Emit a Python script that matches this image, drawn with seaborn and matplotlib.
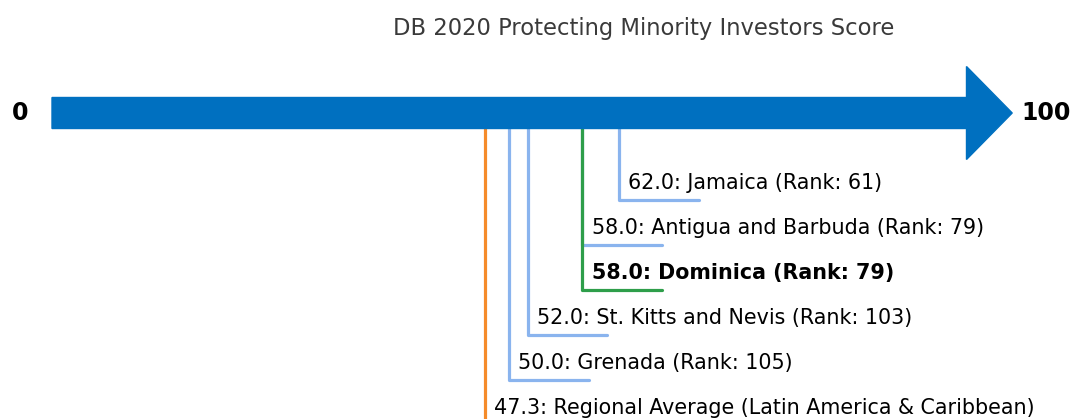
import pandas as pd
import matplotlib.pyplot as plt
import seaborn as sns

# Data
economies = ['Jamaica', 'Antigua and Barbuda', 'Dominica', 'St. Kitts and Nevis',
             'Grenada', 'Regional Average (Latin America & Caribbean)']
scores = [62.0, 58.0, 58.0, 52.0, 50.0, 47.3]
ranks = [61, 79, 79, 103, 105, None]
kinds = ['peer', 'peer', 'focus', 'peer', 'peer', 'average']

title = 'DB 2020 Protecting Minority Investors Score'

colors = {'peer': '#8ab4ee', 'focus': '#2e9e4a', 'average': '#f58b2a'}
arrow_color = '#0070c0'

sns.set_style('white')
plt.rcParams['font.family'] = ['DejaVu Sans']

fig = plt.figure(figsize=(10.72, 4.19), dpi=100)
ax = fig.add_axes([0, 0, 1, 1])
ax.set_xlim(-52 / 9.145, (1072 - 52) / 9.145)
ax.set_ylim(419, 0)
ax.axis('off')

# leader lines, one path per economy
row0, row_step, stub = 200, 45, 8.7
for i, (name, s, r, k) in enumerate(zip(economies, scores, ranks, kinds)):
    y_row = row0 + row_step * i
    path = pd.DataFrame({'x': [s, s, s + stub], 'y': [113, y_row, y_row]})
    sns.lineplot(data=path, x='x', y='y', sort=False, estimator=None, ax=ax,
                 color=colors[k], linewidth=2.3, zorder=1)
    label = f'{s:.1f}: {name}' + (f' (Rank: {r})' if r is not None else '')
    ax.text(s + 1.0, y_row - 11, label, fontsize=14.9, va='baseline', ha='left',
            color='black', fontweight='bold' if k == 'focus' else 'normal')

# main arrow 0 -> 100
ax.arrow(0, 113, 100, 0, width=31, head_width=93, head_length=5.0,
         length_includes_head=False, color=arrow_color, zorder=3)

ax.text(-3.5, 113, '0', fontsize=17, fontweight='bold', color='black',
        ha='center', va='center')
ax.text(108.7, 113, '100', fontsize=17, fontweight='bold', color='black',
        ha='center', va='center')

ax.text(64.7, 28, title, fontsize=16.3, color='#3a3a3a', ha='center', va='center')

fig.savefig('out.png', dpi=100)
